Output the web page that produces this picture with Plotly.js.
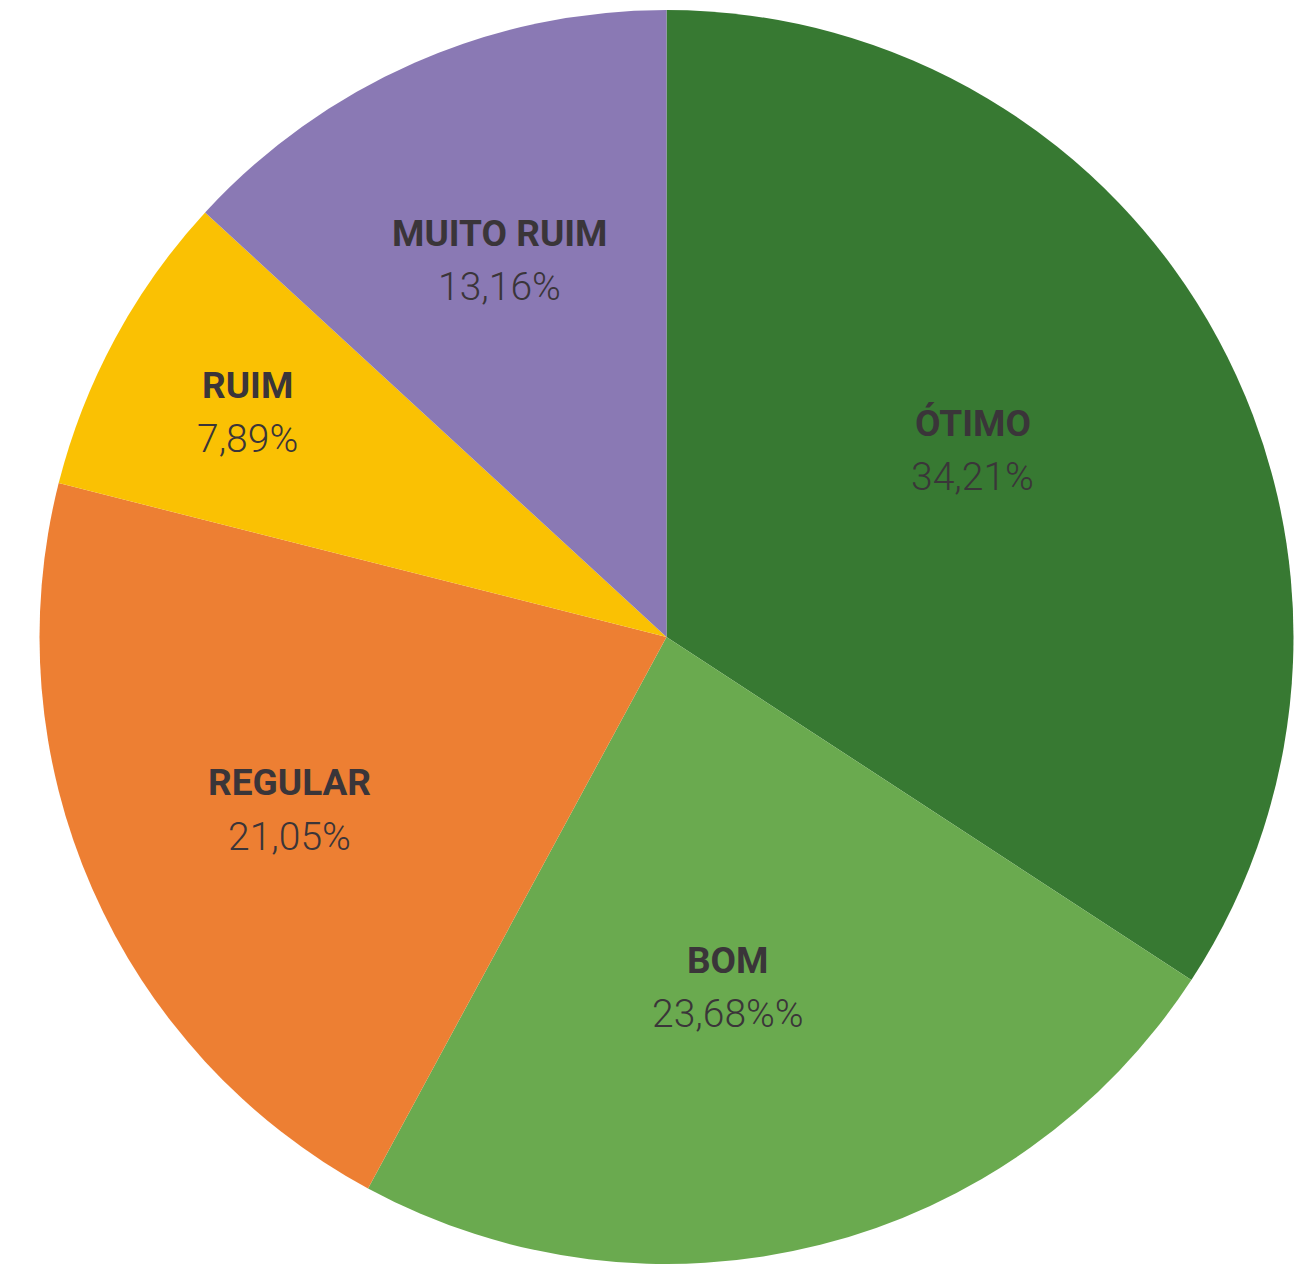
<!DOCTYPE html>
<html>
<head>
<meta charset="utf-8">
<script src="https://cdn.plot.ly/plotly-3.0.1.min.js"></script>
<style>html,body{margin:0;padding:0;background:#fff;}#chart{width:1295px;height:1264px;}</style>
</head>
<body>
<div id="chart"></div>
<script>
// ---- data ----
const categories = ['ÓTIMO', 'BOM', 'REGULAR', 'RUIM', 'MUITO RUIM'];
const values = [34.21, 23.68, 21.05, 7.89, 13.16];
const pctLabels = ['34,21%', '23,68%%', '21,05%', '7,89%', '13,16%'];

// ---- style / layout config ----
const colors = ['#377932', '#6aaa4f', '#ed7f33', '#fac103', '#8a79b4'];
const labelRadius = [0.572, 0.567, 0.662, 0.759, 0.657];   // fraction of pie radius
const labelAngleShift = [-3.0, 4.3, -0.9, -0.2, -0.2];     // degrees
const W = 1295, H = 1264;
const domX = [38 / W, 1], domY = [0, 1 - 10 / H];
const R = Math.min((domX[1] - domX[0]) * W, (domY[1] - domY[0]) * H) / 2;
const cx = (domX[0] + domX[1]) / 2, cy = (domY[0] + domY[1]) / 2;
const textColor = '#3a3539';

const total = values.reduce((a, b) => a + b, 0);
const annotations = [];
let cum = 0;
values.forEach((v, i) => {
  const mid = (cum + v / 2) / total * 360 + labelAngleShift[i];
  cum += v;
  const t = mid * Math.PI / 180;
  const r = R * labelRadius[i];
  const x = cx + r * Math.sin(t) / W;
  const y = cy + r * Math.cos(t) / H;
  annotations.push({
    xref: 'paper', yref: 'paper', x: x, y: y, showarrow: false,
    text: '<b>' + categories[i] + '</b>', yshift: 27,
    xanchor: 'center', yanchor: 'middle',
    font: {family: 'Roboto, sans-serif', size: 37, color: textColor}
  });
  annotations.push({
    xref: 'paper', yref: 'paper', x: x, y: y, showarrow: false,
    text: pctLabels[i], yshift: -27,
    xanchor: 'center', yanchor: 'middle',
    font: {family: 'Roboto, sans-serif', size: 39, color: textColor, weight: 300}
  });
});

Plotly.newPlot('chart', [{
  type: 'pie',
  labels: categories,
  values: values,
  textinfo: 'none',
  sort: false,
  direction: 'clockwise',
  rotation: 0,
  marker: {colors: colors, line: {width: 0}},
  domain: {x: domX, y: domY},
  hoverinfo: 'none'
}], {
  width: W, height: H,
  margin: {l: 0, r: 0, t: 0, b: 0},
  showlegend: false,
  paper_bgcolor: '#fff',
  annotations: annotations
}, {displayModeBar: false, staticPlot: true});
</script>
</body>
</html>
